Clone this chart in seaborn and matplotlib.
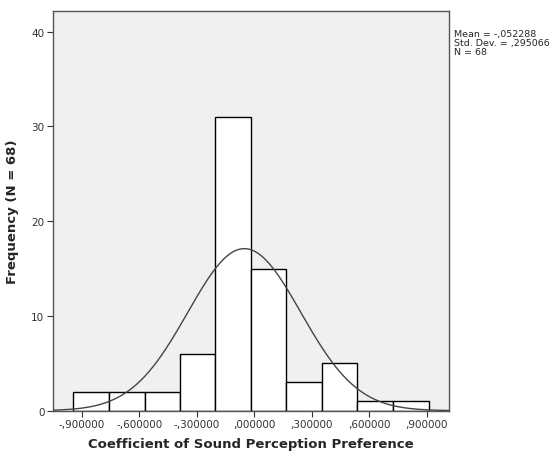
import numpy as np
import matplotlib
matplotlib.use("Agg")
import matplotlib.pyplot as plt
import seaborn as sns

# histogram bins
bin_edges = [-0.947, -0.759, -0.572, -0.389, -0.203, -0.019, 0.167, 0.353, 0.537, 0.725, 0.913]
counts = [2, 2, 2, 6, 31, 15, 3, 5, 1, 1]

# summary statistics printed beside the chart
mean = -0.052288
std_dev = 0.295066
n_total = 68

x_ticks = [-0.9, -0.6, -0.3, 0.0, 0.3, 0.6, 0.9]
x_tick_labels = ["-,900000", "-,600000", "-,300000", ",000000", ",300000", ",600000", ",900000"]
y_ticks = [0, 10, 20, 30, 40]

sns.set_style("ticks")
plt.rcParams["font.family"] = ["DejaVu Sans"]

fig = plt.figure(figsize=(5.58, 4.56), dpi=100)
ax = fig.add_axes([0.0945, 0.0971, 0.7102, 0.8772])
ax.set_facecolor("#f0f0f0")

centers = [(a + b) / 2 for a, b in zip(bin_edges[:-1], bin_edges[1:])]
sns.histplot(x=centers, weights=counts, bins=bin_edges, ax=ax,
             color="white", edgecolor="black", linewidth=1.0, alpha=1.0, zorder=2)

# normal curve from mean / sd, scaled to counts
width = (bin_edges[-1] - bin_edges[0]) / len(counts)
xs = np.linspace(-1.06, 1.02, 400)
ys = n_total * width / (std_dev * np.sqrt(2 * np.pi)) * np.exp(-0.5 * ((xs - mean) / std_dev) ** 2)
ax.plot(xs, ys, color="#444444", linewidth=1.0, zorder=3)

ax.set_xlim(-1.052, 1.016)
ax.set_ylim(0, 42.2)
ax.set_xticks(x_ticks)
ax.set_xticklabels(x_tick_labels)
ax.set_yticks(y_ticks)
ax.tick_params(axis="both", labelsize=7.5, length=4, width=0.8, color="#333333",
               labelcolor="#333333", pad=2)
for side in ax.spines.values():
    side.set_visible(True)
    side.set_color("#555555")
    side.set_linewidth(1.0)

ax.set_xlabel("Coefficient of Sound Perception Preference", fontsize=9.5,
              fontweight="bold", labelpad=6)
ax.set_ylabel("Frequency (N = 68)", fontsize=9.5, fontweight="bold", labelpad=9)

fig.text(0.814, 0.935, f"Mean = -,052288\nStd. Dev. = ,295066\nN = {n_total}",
         fontsize=6.8, va="top", ha="left", linespacing=1.0)

fig.savefig("out.png", dpi=100)
